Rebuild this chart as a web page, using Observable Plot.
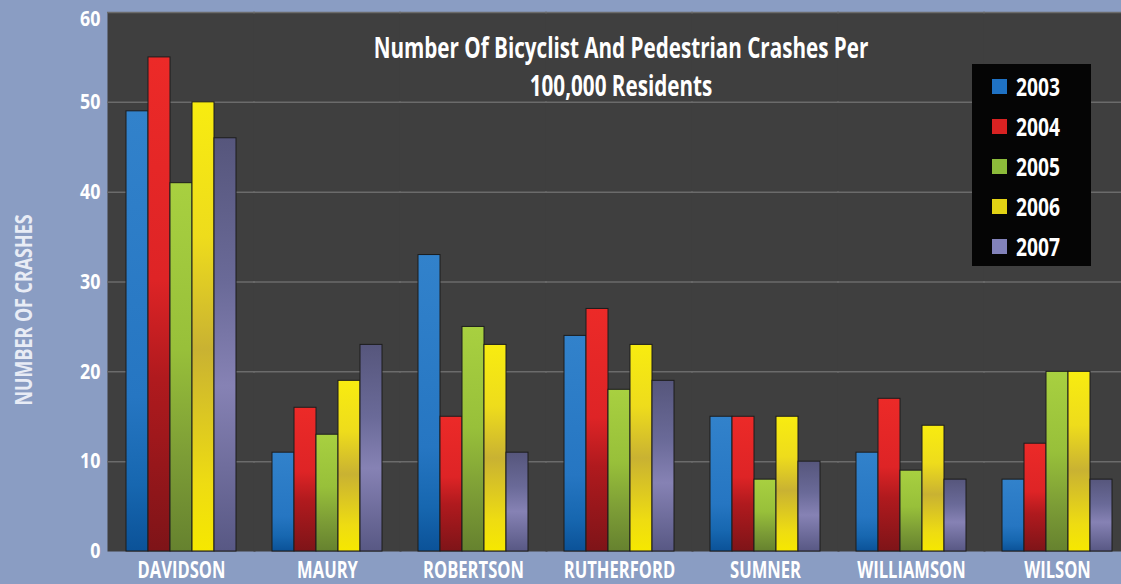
<!DOCTYPE html>
<html><head><meta charset="utf-8">
<script src="https://cdn.jsdelivr.net/npm/d3@7"></script>
<script src="https://cdn.jsdelivr.net/npm/@observablehq/plot@0.6"></script>
<style>
html,body{margin:0;padding:0;background:#8a9dc3;}
#wrap{position:relative;width:1121px;height:584px;overflow:hidden;background:#8a9dc3;
  font-family:"Open Sans",sans-serif;font-weight:bold;color:#fff;}
#wrap svg.chart{position:absolute;left:0;top:0;}
#title{position:absolute;left:221px;width:800px;top:28px;text-align:center;font-size:28px;line-height:38px;}
#title div{white-space:nowrap;transform:scaleX(0.737);transform-origin:center;}
#legend{position:absolute;left:972px;top:64px;width:119px;height:202px;background:#050505;}
.lrow{position:absolute;left:20px;height:24px;display:flex;align-items:center;font-size:25px;white-space:nowrap;}
.lsw{width:15px;height:15px;margin-right:9px;flex:none;}
.ltx{display:inline-block;transform:scaleX(0.77);transform-origin:left center;}
#ylab{position:absolute;left:22px;top:310px;transform:translate(-50%,-50%) rotate(-90deg) scaleX(0.745);white-space:nowrap;font-size:24px;color:#e8ecf5;}
</style></head><body>
<div id="wrap"></div>
<script>
const counties = ["DAVIDSON","MAURY","ROBERTSON","RUTHERFORD","SUMNER","WILLIAMSON","WILSON"];
const years = ["2003","2004","2005","2006","2007"];
const v2003 = [49, 11, 33, 24, 15, 11, 8];
const v2004 = [55, 16, 15, 27, 15, 17, 12];
const v2005 = [41, 13, 25, 18, 8, 9, 20];
const v2006 = [50, 19, 23, 23, 15, 14, 20];
const v2007 = [46, 23, 11, 19, 10, 8, 8];
const yTicks = [0, 10, 20, 30, 40, 50, 60];
const titleLines = ["Number Of Bicyclist And Pedestrian Crashes Per", "100,000 Residents"];
const yLabel = "NUMBER OF CRASHES";

const series = [v2003, v2004, v2005, v2006, v2007];
const data = counties.flatMap((c, i) => years.map((y, j) => ({county: c, year: y, value: series[j][i]})));

// gradient definitions (style)
const gradients = {
  "2003": [[0,"#3282cb"],[0.65,"#2676c2"],[0.85,"#1767b0"],[1,"#0b5298"]],
  "2004": [[0,"#ec2a28"],[0.45,"#de2426"],[0.65,"#b01a1e"],[1,"#7e1418"]],
  "2005": [[0,"#a8d040"],[0.45,"#98c03a"],[0.75,"#7c9c36"],[1,"#66822f"]],
  "2006": [[0,"#f8ec10"],[0.3,"#eedc1c"],[0.55,"#c9b232"],[0.85,"#eedc12"],[1,"#f6e800"]],
  "2007": [[0,"#56567c"],[0.35,"#6a6a98"],[0.6,"#8682b4"],[1,"#585884"]]
};
const swatch = {"2003":"#1f72c4","2004":"#d82222","2005":"#8cbb3a","2006":"#e2d214","2007":"#8282ba"};

const wrap = document.getElementById("wrap");
const defsSvg = d3.select(wrap).append("svg").attr("width",0).attr("height",0).style("position","absolute");
const defs = defsSvg.append("defs");
for (const y of years) {
  const g = defs.append("linearGradient").attr("id","g"+y).attr("x1",0).attr("y1",0).attr("x2",0).attr("y2",1);
  for (const [o,c] of gradients[y]) g.append("stop").attr("offset",o).attr("stop-color",c);
}

const font = '"Open Sans",sans-serif';
const yAxisStyle = {tickSize: 0, tickPadding: 25, fontSize: 21, fontWeight: "bold", fill: "#fff", label: null};
const chart = Plot.plot({
  width: 1121, height: 584,
  marginTop: 12, marginBottom: 33, marginLeft: 122, marginRight: 5,
  style: {background: "transparent", color: "#fff", fontFamily: font, overflow: "hidden"},
  fx: {domain: counties, paddingInner: 0.23, paddingOuter: 0, label: null},
  x: {domain: years, padding: 0, axis: null},
  y: {domain: [0, 60], axis: null},
  color: {type: "identity"},
  marks: [
    Plot.frame({fill: "#3f3f3f", insetLeft: -18, insetRight: -18}),
    Plot.ruleY(yTicks.slice(1), {stroke: "#6b6b6b", strokeWidth: 1.5, insetLeft: -18, insetRight: -18}),
    Plot.barY(data, {fx: "county", x: "year", y: "value", fill: d => `url(#g${d.year})`, stroke: "#1c1c1c", strokeWidth: 1}),
    Plot.axisY(yTicks.slice(0, -1), yAxisStyle),
    Plot.axisY(yTicks.slice(-1), {...yAxisStyle, dy: 7}),
    Plot.axisFx({anchor: "bottom", tickSize: 0, tickPadding: 10, fontSize: 23, fontWeight: "bold", fill: "#fff", label: null})
  ]
});
chart.classList.add("chart");
wrap.appendChild(chart);

// condense axis text horizontally (narrow typeface look)
function condense(sel, s) {
  d3.select(chart).selectAll(sel).each(function() {
    const t = this.getAttribute("transform") || "";
    this.setAttribute("transform", `${t} scale(${s},1)`);
  });
}
condense("g[aria-label='fx-axis tick label'] text", 0.72);
condense("g[aria-label='y-axis tick label'] text", 0.85);

const title = document.createElement("div");
title.id = "title";
title.innerHTML = titleLines.map(t => `<div>${t}</div>`).join("");
wrap.appendChild(title);

const legend = document.createElement("div");
legend.id = "legend";
years.forEach((y, i) => {
  const r = document.createElement("div");
  r.className = "lrow";
  r.style.top = (10 + i * 40) + "px";
  r.innerHTML = `<span class="lsw" style="background:${swatch[y]}"></span><span class="ltx">${y}</span>`;
  legend.appendChild(r);
});
wrap.appendChild(legend);

const yl = document.createElement("div");
yl.id = "ylab";
yl.textContent = yLabel;
wrap.appendChild(yl);
</script>
</body></html>
